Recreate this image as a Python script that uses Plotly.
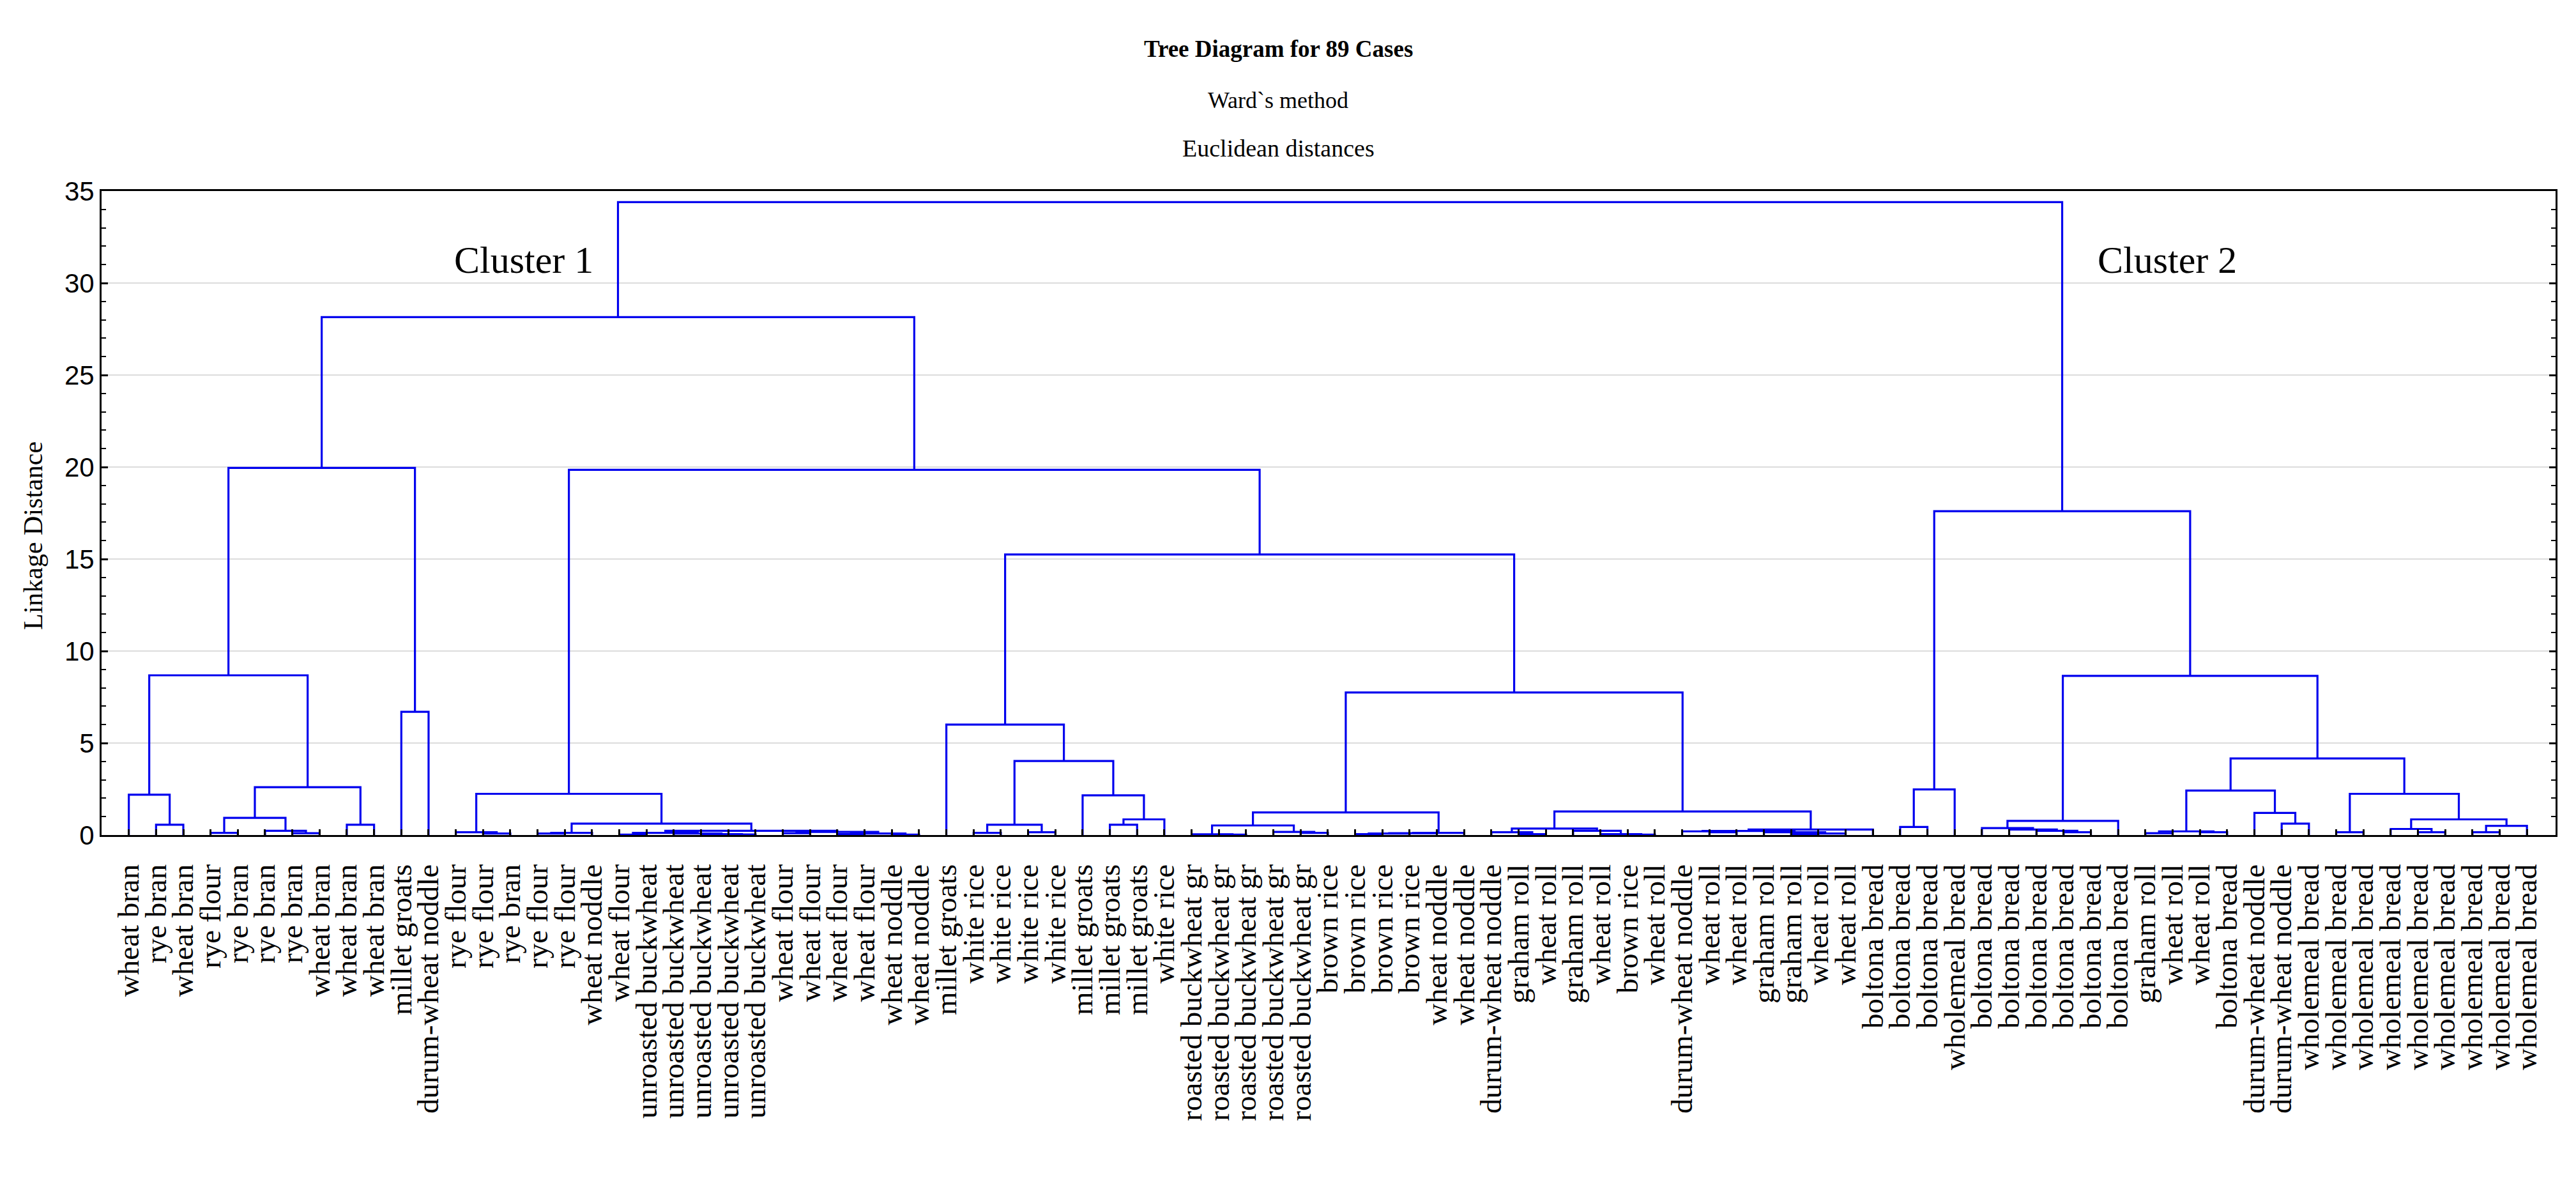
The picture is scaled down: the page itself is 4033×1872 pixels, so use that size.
import plotly.graph_objects as go

# ---- leaf labels in dendrogram order (left to right) ----
labels = (
    ["wheat bran", "rye bran", "wheat bran", "rye flour", "rye bran", "rye bran",
     "rye bran", "wheat bran", "wheat bran", "wheat bran", "millet groats",
     "durum-wheat noddle", "rye flour", "rye flour", "rye bran", "rye flour",
     "rye flour", "wheat noddle", "wheat flour"]
    + ["unroasted buckwheat"] * 5
    + ["wheat flour"] * 4
    + ["wheat noddle"] * 2
    + ["millet groats"]
    + ["white rice"] * 4
    + ["millet groats"] * 3
    + ["white rice"]
    + ["roasted buckwheat gr"] * 5
    + ["brown rice"] * 4
    + ["wheat noddle"] * 2
    + ["durum-wheat noddle", "graham roll", "wheat roll", "graham roll", "wheat roll",
       "brown rice", "wheat roll", "durum-wheat noddle", "wheat roll", "wheat roll",
       "graham roll", "graham roll", "wheat roll", "wheat roll"]
    + ["boltona bread"] * 3
    + ["wholemeal bread"]
    + ["boltona bread"] * 6
    + ["graham roll", "wheat roll", "wheat roll", "boltona bread",
       "durum-wheat noddle", "durum-wheat noddle"]
    + ["wholemeal bread"] * 9
)

# ---- merges: (first leaf, first leaf of right child, last leaf, linkage distance) ----
cluster1_merges = [
    (2, 3, 3, 0.56), (1, 2, 3, 2.19), (4, 5, 5, 0.12), (7, 8, 8, 0.10),
    (6, 7, 8, 0.23), (4, 6, 8, 0.93), (9, 10, 10, 0.56), (4, 9, 10, 2.60),
    (1, 4, 10, 8.68), (11, 12, 12, 6.70), (1, 11, 12, 19.95),
    (14, 15, 15, 0.08), (13, 14, 15, 0.15), (16, 17, 17, 0.08), (16, 18, 18, 0.12),
    (19, 20, 20, 0.02), (23, 24, 24, 0.03), (22, 23, 24, 0.05), (21, 22, 24, 0.08),
    (19, 21, 24, 0.12), (25, 26, 26, 0.10), (27, 28, 28, 0.05), (29, 30, 30, 0.02),
    (27, 29, 30, 0.08), (25, 27, 30, 0.17), (19, 25, 30, 0.23), (16, 19, 30, 0.62),
    (13, 16, 30, 2.24),
    (32, 33, 33, 0.12), (34, 35, 35, 0.15), (32, 34, 35, 0.56), (37, 38, 38, 0.56),
    (37, 39, 39, 0.85), (36, 37, 39, 2.16), (32, 36, 39, 4.02), (31, 32, 39, 6.00),
    (41, 42, 42, 0.02), (40, 41, 42, 0.04), (44, 45, 45, 0.12), (43, 44, 45, 0.17),
    (40, 43, 45, 0.52), (46, 47, 47, 0.05), (46, 48, 48, 0.08), (46, 49, 49, 0.10),
    (46, 50, 50, 0.12), (40, 46, 50, 1.23),
    (52, 53, 53, 0.05), (51, 52, 53, 0.15), (56, 57, 57, 0.02), (55, 56, 57, 0.05),
    (54, 55, 57, 0.23), (51, 54, 57, 0.35), (59, 60, 60, 0.15), (58, 59, 60, 0.20),
    (62, 63, 63, 0.05), (62, 64, 64, 0.08), (61, 62, 64, 0.15), (58, 61, 64, 0.22),
    (58, 65, 65, 0.30), (51, 58, 65, 1.28), (40, 51, 65, 7.75), (31, 40, 65, 15.25),
    (13, 31, 65, 19.85), (1, 13, 65, 28.15),
]
cluster2_merges = [
    (66, 67, 67, 0.44), (66, 68, 68, 2.48),
    (72, 73, 73, 0.15), (71, 72, 73, 0.23), (70, 71, 73, 0.30), (69, 70, 73, 0.38),
    (69, 74, 74, 0.77),
    (75, 76, 76, 0.10), (77, 78, 78, 0.15), (75, 77, 78, 0.20), (80, 81, 81, 0.62),
    (79, 80, 81, 1.20), (75, 79, 81, 2.42),
    (82, 83, 83, 0.15), (85, 86, 86, 0.15), (84, 85, 86, 0.33), (87, 88, 88, 0.15),
    (87, 89, 89, 0.50), (84, 87, 89, 0.85), (82, 84, 89, 2.24),
    (75, 82, 89, 4.16), (69, 75, 89, 8.65), (66, 69, 89, 17.60),
]
root_merge = [(1, 66, 89, 34.40)]

y_ticks = [0, 5, 10, 15, 20, 25, 30, 35]
title_lines = ["<b>Tree Diagram for 89 Cases</b>", "Ward`s method", "Euclidean distances"]
cluster_names = ["Cluster 1", "Cluster 2"]

merges = cluster1_merges + cluster2_merges + root_merge
split_of = {(a, b): s for a, s, b, h in merges}
height_of = {(a, b): h for a, s, b, h in merges}


def node_x(a, b):
    if a == b:
        return float(a)
    s = split_of[(a, b)]
    return (node_x(a, s - 1) + node_x(s, b)) / 2.0


def node_h(a, b):
    return 0.0 if a == b else height_of[(a, b)]


xs, ys = [], []
for a, s, b, h in merges:
    xl, xr = node_x(a, s - 1), node_x(s, b)
    hl, hr = node_h(a, s - 1), node_h(s, b)
    xs += [xl, xl, xr, xr, None]
    ys += [hl, h, h, hr, None]

BLUE = "#0000EE"
SERIF = "Liberation Serif"
SANS = "Liberation Sans"

fig = go.Figure()
fig.add_trace(go.Scatter(x=xs, y=ys, mode="lines",
                         line=dict(color=BLUE, width=3.2),
                         hoverinfo="skip", showlegend=False))

W, H = 4033, 1872
L, R, T, B = 151, 40, 291, 573

fig.update_layout(
    width=W, height=H, autosize=False,
    margin=dict(l=L, r=R, t=T, b=B, pad=0),
    paper_bgcolor="white", plot_bgcolor="white",
    font=dict(family=SERIF, color="black"),
    showlegend=False,
)

fig.update_xaxes(
    range=[0, 90.05], tickmode="array",
    tickvals=list(range(1, len(labels) + 1)), ticktext=labels,
    tickangle=-90, tickfont=dict(family=SERIF, size=47, color="black"),
    ticks="inside", ticklen=9, tickwidth=2.5, tickcolor="black",
    ticklabelstandoff=24,
    showline=True, linecolor="black", linewidth=3, mirror=True,
    showgrid=False, zeroline=False,
)
fig.update_yaxes(
    range=[0, 35], tickmode="array", tickvals=y_ticks,
    ticktext=[str(v) for v in y_ticks],
    tickfont=dict(family=SANS, size=42, color="black"),
    ticks="inside", ticklen=10, tickwidth=2.5, tickcolor="black",
    minor=dict(dtick=1, ticks="inside", ticklen=7, tickwidth=2, tickcolor="black",
               showgrid=False),
    showline=True, linecolor="black", linewidth=3, mirror="ticks",
    showgrid=True, gridcolor="#dcdcdc", gridwidth=2, zeroline=False,
)

pw, ph = W - L - R, H - T - B


def px_to_paper_y(py):
    return (H - B - py) / ph


def px_to_paper_x(px):
    return (px - L) / pw


title_y_px = [69, 149, 224]
title_sizes = [37, 36, 38]
for txt, ypx, sz in zip(title_lines, title_y_px, title_sizes):
    fig.add_annotation(text=txt, xref="paper", yref="paper",
                       x=px_to_paper_x(1993), y=px_to_paper_y(ypx),
                       xanchor="center", yanchor="middle", showarrow=False,
                       font=dict(family=SERIF, size=sz, color="black"))

fig.add_annotation(text="Linkage Distance", xref="paper", yref="paper",
                   x=px_to_paper_x(44), y=px_to_paper_y(831), textangle=-90,
                   xanchor="center", yanchor="middle", showarrow=False,
                   font=dict(family=SERIF, size=42, color="black"))

cluster_pos = [(15.5, 31.25), (75.8, 31.25)]
for name, (cx, cy) in zip(cluster_names, cluster_pos):
    fig.add_annotation(text=name, x=cx, y=cy, xref="x", yref="y",
                       xanchor="center", yanchor="middle", showarrow=False,
                       font=dict(family=SERIF, size=60, color="black"))

fig.write_html("out.html")
